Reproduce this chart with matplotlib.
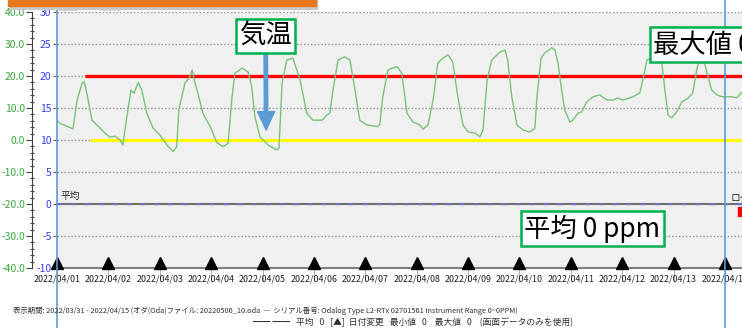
import matplotlib
matplotlib.use('Agg')
import matplotlib.pyplot as plt
from matplotlib.patches import Rectangle
import numpy as np

W, H = 742, 328

# temperature trace (days since 2022/04/01 00:00, deg C)
days = [0.00, 0.06, 0.31, 0.39, 0.49, 0.53, 0.58, 0.68, 0.84, 0.93, 1.03, 1.13, 1.23, 1.28,
        1.36, 1.44, 1.50, 1.58, 1.65, 1.75, 1.87, 2.00, 2.14, 2.26, 2.33, 2.37, 2.49, 2.59,
        2.63, 2.68, 2.74, 2.84, 2.98, 3.11, 3.23, 3.33, 3.40, 3.46, 3.60, 3.72, 3.79, 3.85,
        3.95, 4.11, 4.28, 4.32, 4.38, 4.47, 4.59, 4.69, 4.73, 4.86, 4.98, 5.16, 5.25, 5.31,
        5.37, 5.47, 5.60, 5.70, 5.80, 5.89, 6.03, 6.23, 6.28, 6.34, 6.44, 6.58, 6.63, 6.71,
        6.81, 6.93, 7.06, 7.12, 7.22, 7.32, 7.41, 7.51, 7.61, 7.70, 7.80, 7.90, 8.00, 8.13,
        8.23, 8.29, 8.37, 8.46, 8.62, 8.72, 8.77, 8.85, 8.95, 9.07, 9.20, 9.30, 9.34, 9.42,
        9.49, 9.63, 9.69, 9.75, 9.82, 9.88, 9.98, 10.04, 10.14, 10.21, 10.31, 10.43, 10.56,
        10.70, 10.82, 10.91, 11.01, 11.21, 11.34, 11.40, 11.48, 11.60, 11.77, 11.83, 11.89,
        11.96, 12.06, 12.16, 12.28, 12.37, 12.45, 12.51, 12.57, 12.65, 12.74, 12.84, 12.94,
        13.04, 13.13, 13.23, 13.33]
temps = [6.2, 5.2, 3.5, 12.5, 17.8, 18.2, 14.7, 6.2, 3.7, 2.2, 0.9, 1.2, 0.0, -1.6,
         7.3, 15.6, 14.6, 18.0, 15.6, 8.3, 3.7, 1.6, -1.6, -3.6, -2.1, 9.4, 17.8, 19.8,
         21.9, 18.2, 14.7, 8.3, 4.2, -0.8, -2.1, -1.0, 12.5, 20.8, 22.5, 21.2, 16.6, 7.3,
         1.0, -1.6, -3.1, -2.5, 17.8, 25.0, 25.6, 20.8, 18.8, 8.4, 6.2, 6.2, 7.8, 8.4,
         15.6, 25.0, 26.0, 25.0, 15.6, 6.2, 4.7, 4.2, 4.7, 13.5, 21.9, 22.8, 22.8, 20.8,
         8.4, 5.6, 4.7, 3.4, 4.7, 12.5, 24.0, 25.6, 26.6, 24.4, 13.5, 4.7, 2.5, 2.2,
         1.0, 3.1, 18.8, 25.0, 27.5, 28.1, 25.0, 13.5, 4.7, 3.1, 2.5, 3.7, 13.5, 25.6,
         27.2, 28.8, 28.1, 24.0, 15.6, 9.4, 5.6, 6.2, 8.4, 8.8, 11.9, 13.5, 14.1,
         12.5, 12.5, 13.1, 12.5, 13.5, 14.7, 18.8, 25.0, 26.0, 24.0, 15.6, 7.8,
         6.9, 8.8, 11.9, 13.1, 14.7, 21.9, 26.0, 26.0, 20.9, 15.6, 14.1, 13.5,
         13.5, 13.5, 13.2, 15.0]

date_labels = ['2022/04/%02d' % d for d in range(1, 15)]
date_ticks = list(range(len(date_labels)))
green_ticks = [-40, -30, -20, -10, 0, 10, 20, 30, 40]
green_labels = ['%.1f' % v for v in green_ticks]
blue_labels = ['-10', '-5', '0', '5', '10', '15', '20', '25', '30']

upper_limit, upper_start = 20, 0.55
lower_limit, lower_start = 0, 0.64
avg_level = -20
cursor_days = [0, 13]
x_end = 13.33

narrow = ['Liberation Sans Narrow', 'Noto Sans CJK JP', 'DejaVu Sans']
jp = ['Noto Sans CJK JP', 'DejaVu Sans']
green_c = '#3da63d'
blue_c = '#3b3bff'
arrow_c = '#5b9bd5'

fig = plt.figure(figsize=(W / 100, H / 100), dpi=100)
fig.patch.set_facecolor('white')
ax = fig.add_axes([57 / W, (H - 268) / H, (W - 57) / W, 256 / H])
ax.set_facecolor('#f0f0f0')
ax.set_xlim(0, x_end)
ax.set_ylim(-40, 40)
for s in ['top', 'right', 'left']:
    ax.spines[s].set_visible(False)
ax.spines['bottom'].set_color('#808080')
ax.spines['bottom'].set_linewidth(1.5)

# grid
for g in green_ticks[1:]:
    if g == avg_level:
        ax.axhline(g, color='#707070', lw=1.5, zorder=1)
        ax.axhline(g, color='#7070ff', lw=1, dashes=(3, 7), zorder=1.5)
    else:
        ax.axhline(g, color='#909090', lw=1, ls=(0, (1, 1.5)), zorder=1)

# limit lines
ax.plot([upper_start, x_end], [upper_limit, upper_limit], color='#ff0000', lw=2.4, zorder=3,
        solid_capstyle='butt')
ax.plot([lower_start, x_end], [lower_limit, lower_limit], color='#ffff00', lw=2.2, zorder=3,
        solid_capstyle='butt')

ax.plot(days, temps, color='#78c278', lw=1.0, zorder=4)

# date change markers
ax.plot(date_ticks, [-38.3] * len(date_ticks), ls='', marker='^', color='black', ms=8,
        clip_on=False, zorder=5)

# blue (ppm) axis on ax
ax.set_yticks(green_ticks)
ax.set_yticklabels(blue_labels, color=blue_c, fontsize=7.5, family=narrow)
ax.tick_params(axis='y', length=3, width=0.8, color='#606060', pad=1)

ax.set_xticks(date_ticks)
ax.set_xticklabels(date_labels, fontsize=6.4, family=narrow, color='#202020')
ax.tick_params(axis='x', length=10, width=0.8, color='#b0b0b0', pad=-5.5, direction='out')

# green (temperature) axis
axg = ax.twinx()
axg.set_ylim(-40, 40)
axg.yaxis.tick_left()
for s in ['top', 'right', 'bottom']:
    axg.spines[s].set_visible(False)
axg.spines['left'].set_position(('outward', 18))
axg.spines['left'].set_color('#404040')
axg.set_yticks(green_ticks)
axg.set_yticklabels(green_labels, color=green_c, fontsize=7.5, family=narrow)
axg.set_yticks(np.arange(-40, 41, 2), minor=True)
axg.tick_params(axis='y', which='major', length=4, width=0.8, color='#404040', pad=1)
axg.tick_params(axis='y', which='minor', length=3, width=0.8, color='#404040',
                direction='inout')

# cursor lines
for cd in cursor_days:
    ax.axvline(cd, ymin=-0.25, ymax=1.05, color='#5b9bd5', lw=1.2, clip_on=False, zorder=6)

# labels and boxes
box = dict(boxstyle='square,pad=0.13', fc='white', ec='#00b050', lw=1.8)
ax.annotate('気温', xy=(4.07, 3.1), xytext=(4.06, 32.6), ha='center', va='center',
            fontsize=19, family=jp, bbox=box, zorder=8,
            arrowprops=dict(arrowstyle='simple,head_width=0.65,head_length=0.7,tail_width=0.13',
                            fc=arrow_c, ec=arrow_c, shrinkA=0, shrinkB=0))
ax.text(11.6, 29.8, '最大値 0 ppm', ha='left', va='center', fontsize=19, family=jp,
        bbox=box, zorder=8, clip_on=False)
ax.text(9.09, -27.7, '平均 0 ppm', ha='left', va='center', fontsize=19, family=jp,
        bbox=box, zorder=8)
ax.text(0.07, -19.2, '平均', fontsize=7, family=jp, va='bottom', color='#202020')
ax.text(13.1, -19.5, 'ログ', fontsize=7, family=jp, va='bottom', color='#202020',
        clip_on=False)
fig.patches.append(Rectangle((738 / W, (H - 216) / H), 4 / W, 9 / H, color='#ff0000',
                             transform=fig.transFigure))

# top legend, mostly hidden under the orange banner
fig.patches.append(Rectangle((57 / W, (H - 9) / H), 19 / W, 5 / H, color='#1a1a7a',
                             transform=fig.transFigure, zorder=1))
fig.patches.append(Rectangle((100 / W, (H - 9) / H), 20 / W, 5 / H, color='#1a5a1a',
                             transform=fig.transFigure, zorder=1))
fig.text(78 / W, (H - 11) / H, '日付', fontsize=6.5, family=jp, va='bottom', zorder=1)
fig.text(125 / W, (H - 11) / H, '最良', fontsize=6.5, family=jp, va='bottom', zorder=1)
fig.patches.append(Rectangle((10 / W, (H - 9) / H), 307 / W, 9 / H, color='#c8c8c8',
                             transform=fig.transFigure, zorder=2))
fig.patches.append(Rectangle((8 / W, (H - 6) / H), 308 / W, 6 / H, color='#e87722',
                             transform=fig.transFigure, zorder=3))

# footer
fig.text(13 / W, (H - 311) / H,
         '表示期間: 2022/03/31 - 2022/04/15 (オダ(Oda)ファイル: 20220506_10.oda  —  '
         'シリアル番号: Odalog Type L2-RTx 02701561 Instrument Range 0~0PPM)',
         fontsize=5.3, family=narrow, va='center', color='#303030')
fig.text(253 / W, (H - 322) / H,
         '━━ ━━   平均   0   [▲]  日付変更   最小値   0    最大値   0    (画面データのみを使用)',
         fontsize=6.3, family=narrow, va='center', color='#303030')

fig.savefig('out.png', dpi=100)
